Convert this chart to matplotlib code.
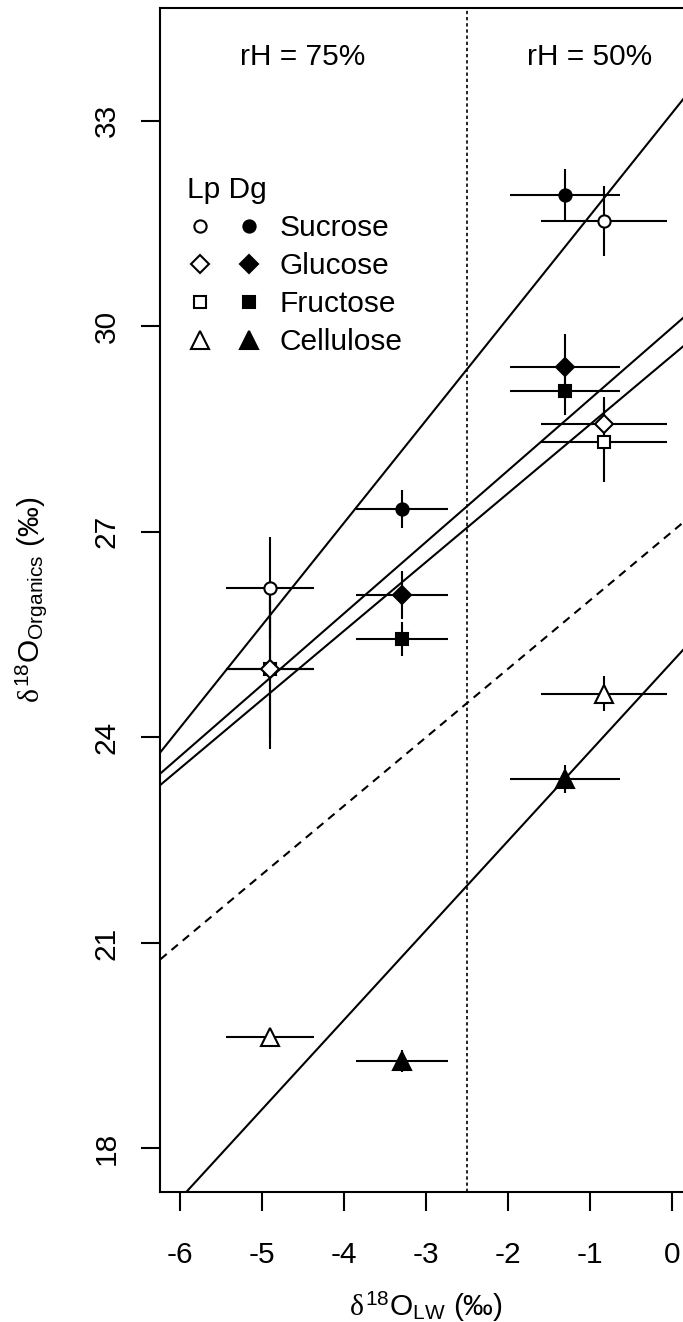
import matplotlib
matplotlib.use("Agg")
import matplotlib.pyplot as plt
from matplotlib.lines import Line2D
from matplotlib.legend_handler import HandlerTuple

plt.rcParams['font.family'] = ['Liberation Sans', 'DejaVu Sans']
plt.rcParams['mathtext.fontset'] = 'custom'
plt.rcParams['mathtext.rm'] = 'Liberation Sans'
plt.rcParams['mathtext.it'] = 'Liberation Serif'

# compounds, symbols for each (open = Lp, filled = Dg)
compounds = ['Sucrose', 'Glucose', 'Fructose', 'Cellulose']
symbols = ['o', 'D', 's', '^']
sym_size = [8.8, 9.0, 8.6, 12.5]

# leaf water d18O (rH 75%, rH 50%) and its error
lw_lp = [-4.90, -0.83]
lw_lp_err = [0.54, 0.77]
lw_dg = [-3.29, -1.30]
lw_dg_err = [0.56, 0.67]

# organics d18O per compound (rH 75%, rH 50%)
lp_sucrose = [26.18, 31.54]
lp_glucose = [25.00, 28.57]
lp_fructose = [25.00, 28.31]
lp_cellulose = [19.63, 24.64]
lp_sucrose_err = [0.74, 0.51]
lp_glucose_err = [1.17, 0.40]
lp_fructose_err = [1.00, 0.59]
lp_cellulose_err = [0.08, 0.25]

dg_sucrose = [27.33, 31.92]
dg_glucose = [26.08, 29.41]
dg_fructose = [25.44, 29.06]
dg_cellulose = [19.28, 23.39]
dg_sucrose_err = [0.28, 0.37]
dg_glucose_err = [0.35, 0.47]
dg_fructose_err = [0.25, 0.36]
dg_cellulose_err = [0.16, 0.20]

# regression lines per compound
fit_intercept = [33.11, 29.98, 29.57, 25.10]
fit_slope = [1.495, 1.043, 1.004, 1.306]
# reference line (dashed)
ref_intercept = 27.0
ref_slope = 1.0

rh_labels = ['rH = 75%', 'rH = 50%']
rh_label_x = [-4.5, -1.0]
rh_label_y = 33.98
rh_split = -2.5

xticks = [-6, -5, -4, -3, -2, -1, 0]
yticks = [18, 21, 24, 27, 30, 33]


def main():
    lp_vals = [lp_sucrose, lp_glucose, lp_fructose, lp_cellulose]
    lp_errs = [lp_sucrose_err, lp_glucose_err, lp_fructose_err, lp_cellulose_err]
    dg_vals = [dg_sucrose, dg_glucose, dg_fructose, dg_cellulose]
    dg_errs = [dg_sucrose_err, dg_glucose_err, dg_fructose_err, dg_cellulose_err]

    fs = 21.5
    fig = plt.figure(figsize=(6.83, 13.22), dpi=100)
    ax = fig.add_axes([0.2347, 0.0981, 0.778, 0.8956])
    ax.set_xlim(-6.24, 0.24)
    ax.set_ylim(17.36, 34.64)

    lw = 1.5
    # error bars
    for vals, errs in zip(lp_vals, lp_errs):
        ax.errorbar(lw_lp, vals, xerr=lw_lp_err, yerr=errs, fmt='none',
                    ecolor='black', elinewidth=lw, capsize=0, zorder=2)
    for vals, errs in zip(dg_vals, dg_errs):
        ax.errorbar(lw_dg, vals, xerr=lw_dg_err, yerr=errs, fmt='none',
                    ecolor='black', elinewidth=lw, capsize=0, zorder=2)

    # regression lines + reference line
    for b, m in zip(fit_intercept, fit_slope):
        ax.axline((0, b), slope=m, color='black', lw=lw, zorder=3)
    ax.axline((0, ref_intercept), slope=ref_slope, color='black', lw=lw,
              ls=(0, (4, 3)), zorder=3)
    ax.axvline(rh_split, color='black', lw=1.2, ls=(0, (2, 1.7)), zorder=1)

    # points (draw fructose under glucose so both outlines show)
    order = [0, 2, 1, 3]
    for i in order:
        ax.plot(lw_lp, lp_vals[i], ls='none', marker=symbols[i], ms=sym_size[i],
                mfc='white', mec='black', mew=lw, zorder=5)
        ax.plot(lw_dg, dg_vals[i], ls='none', marker=symbols[i], ms=sym_size[i],
                mfc='black', mec='black', mew=lw, zorder=5)

    handles = []
    for i in range(len(compounds)):
        h_open = Line2D([], [], ls='none', marker=symbols[i], ms=sym_size[i],
                        mfc='white', mec='black', mew=lw)
        h_fill = Line2D([], [], ls='none', marker=symbols[i], ms=sym_size[i],
                        mfc='black', mec='black', mew=lw)
        handles.append((h_open, h_fill))

    for label, x in zip(rh_labels, rh_label_x):
        ax.text(x, rh_label_y, label, ha='center', va='center_baseline', fontsize=fs)

    ax.legend(handles, compounds, title='Lp Dg', loc='upper left',
              bbox_to_anchor=(0.050, 0.8585), frameon=False, fontsize=fs,
              title_fontsize=fs, alignment='left', borderpad=0,
              borderaxespad=0, handlelength=2.54, handletextpad=0.57,
              labelspacing=0.34,
              handler_map={tuple: HandlerTuple(ndivide=None, pad=0.76)})

    # axes styling
    for sp in ax.spines.values():
        sp.set_linewidth(lw)
    ax.set_xticks(xticks)
    ax.set_xticklabels([str(t) for t in xticks])
    ax.set_yticks(yticks)
    ax.set_yticklabels([str(t) for t in yticks], rotation=90, va='center')
    ax.tick_params(direction='out', length=13.7, width=lw, labelsize=fs)
    ax.tick_params(axis='x', pad=21)
    ax.tick_params(axis='y', pad=15)

    ax.set_xlabel(r'$\delta^{18}$O$_{\mathrm{LW}}$ (‰)', fontsize=fs)
    ax.set_ylabel(r'$\delta^{18}$O$_{\mathrm{Organics}}$ (‰)', fontsize=fs)
    ax.xaxis.set_label_coords(0.5, -0.0825)
    ax.yaxis.set_label_coords(-0.2076, 0.5)

    fig.savefig('out.png', dpi=100)
    plt.close(fig)


if __name__ == '__main__':
    main()
